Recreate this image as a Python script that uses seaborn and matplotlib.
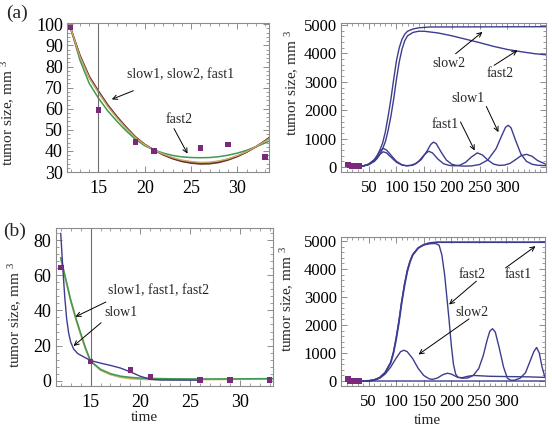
import numpy as np
import pandas as pd
import matplotlib
matplotlib.use("Agg")
import matplotlib.pyplot as plt
from matplotlib.ticker import MultipleLocator
import seaborn as sns

sns.set_theme(style="ticks")
plt.rcParams['font.family'] = ['Liberation Serif', 'DejaVu Serif']
plt.rcParams['mathtext.fontset'] = 'custom'
plt.rcParams['mathtext.rm'] = 'Liberation Serif'
plt.rcParams['mathtext.it'] = 'Liberation Serif:italic'
plt.rcParams['mathtext.default'] = 'regular'

# ---------------- data ----------------
obs_t = [12, 15, 19, 21, 26, 29, 33]
obs_a = [98.5, 59.5, 44.3, 40.1, 41.3, 43.1, 37.2]
obs_b = [64.5, 11.0, 6.0, 2.2, 0.3, 0.3, 0.3]

# (a) left: short-time fits
ta_fit = [12, 13, 14, 15, 16, 17, 18, 19, 20, 21, 22, 23, 24, 25, 26, 27, 28, 29, 30, 31, 32, 33, 33.5]
a_slow1 = [98, 85, 75, 68, 61.5, 56, 51, 46.5, 43, 40.5, 38.3, 36.6, 35.3, 34.6, 34.2, 34.3, 34.9, 36.0, 37.6, 39.6, 42.0, 44.8, 46.3]
a_slow2 = [98, 84.6, 74.6, 67.6, 61.1, 55.6, 50.7, 46.3, 42.9, 40.5, 38.5, 36.9, 35.7, 35.0, 34.6, 34.7, 35.3, 36.3, 37.8, 39.7, 42.0, 44.6, 46.0]
a_fast1 = [98, 85.3, 75.4, 68.4, 61.9, 56.3, 51.3, 46.7, 43.1, 40.5, 38.1, 36.3, 35.0, 34.2, 33.8, 33.9, 34.5, 35.7, 37.3, 39.4, 41.9, 44.9, 46.5]
a_fast2 = [98, 83, 72, 65, 59, 54, 49.5, 45.5, 42.5, 40.5, 39.0, 37.9, 37.2, 36.9, 36.8, 36.9, 37.3, 38.0, 39.0, 40.3, 42.0, 43.8, 44.8]

# (b) left: short-time fits
tb_blue = [12.0, 12.2, 12.4, 12.6, 12.8, 13.0, 13.3, 13.7, 14, 15, 16, 17, 18, 19, 20, 21, 22, 26]
b_slow1 = [84, 65, 48, 35, 27, 22, 18, 15.5, 14.5, 11.5, 10, 8.7, 7.2, 5.0, 2.5, 0.8, 0.4, 0.3]
tb_fit = [12, 12.5, 13, 13.5, 14, 14.5, 15, 16, 17, 18, 19, 20, 21, 23, 25, 27, 29, 31, 33.3]
b_fast1 = [70, 58, 46, 36, 27, 18.5, 11.2, 6.5, 4.0, 2.6, 1.9, 1.5, 1.3, 1.1, 1.0, 1.0, 1.0, 1.1, 1.2]
b_fast2 = [70, 57.5, 45.5, 35.5, 26.5, 18, 11.0, 6.0, 3.5, 2.0, 1.2, 0.9, 0.7, 0.6, 0.6, 0.7, 0.8, 0.9, 1.0]

# (a) right: long-time simulations
ra_t_slow2 = [12, 20, 30, 40, 50, 60, 65, 70, 75, 80, 85, 90, 95, 100, 105, 110, 115, 120, 130, 140, 160, 370]
ra_slow2 = [98, 45, 30, 45, 110, 260, 400, 600, 850, 1250, 1800, 2400, 3100, 3750, 4200, 4500, 4680, 4780, 4860, 4900, 4930, 4940]
ra_t_fast2 = [12, 20, 30, 40, 50, 60, 65, 70, 75, 80, 85, 90, 95, 100, 105, 110, 115, 120, 130, 140, 150, 175, 200, 225, 250, 275, 300, 325, 350, 370]
ra_fast2 = [98, 45, 30, 40, 90, 200, 300, 450, 650, 900, 1300, 1800, 2400, 3100, 3700, 4150, 4450, 4620, 4740, 4780, 4780, 4720, 4620, 4500, 4380, 4250, 4140, 4060, 3990, 3950]
ra_t_slow1 = [12, 20, 30, 40, 50, 60, 65, 70, 76, 82, 90, 100, 110, 117, 125, 135, 145, 155, 162, 167, 172, 180, 190, 200, 210, 220, 235, 250, 265, 280, 290, 297, 302, 307, 315, 325, 335, 345, 355, 370]
ra_slow1 = [98, 45, 30, 40, 100, 260, 400, 560, 660, 600, 420, 200, 80, 50, 60, 120, 270, 560, 800, 880, 820, 550, 250, 100, 50, 35, 40, 90, 250, 650, 1100, 1400, 1470, 1380, 950, 450, 200, 100, 65, 50]
ra_t_fast1 = [12, 20, 30, 40, 50, 60, 70, 76, 82, 90, 100, 110, 120, 130, 140, 150, 158, 165, 175, 185, 195, 205, 215, 225, 235, 246, 255, 265, 275, 285, 295, 305, 315, 325, 335, 345, 355, 370]
ra_fast1 = [98, 45, 30, 40, 90, 230, 450, 540, 500, 350, 170, 70, 45, 70, 200, 430, 560, 500, 280, 120, 60, 45, 70, 170, 350, 500, 430, 250, 110, 60, 70, 130, 260, 400, 450, 380, 230, 100]

# (b) right: long-time simulations
rb_t_slow1 = [12, 15, 20, 30, 370]
rb_slow1 = [64, 11, 2, 1, 1]
rb_t_fast1 = [12, 20, 30, 40, 50, 60, 70, 80, 90, 95, 100, 105, 110, 115, 120, 125, 130, 140, 150, 160, 175, 370]
rb_fast1 = [64, 2, 1, 3, 10, 40, 120, 300, 650, 1000, 1500, 2100, 2800, 3400, 3900, 4250, 4500, 4750, 4870, 4930, 4960, 4960]
rb_t_fast2 = [12, 20, 30, 40, 50, 60, 70, 80, 90, 95, 100, 105, 110, 115, 120, 125, 130, 140, 150, 160, 166, 172, 178, 183, 188, 192, 196, 200, 204, 208, 212, 220, 230, 240, 250, 270, 300, 340, 370]
rb_fast2 = [64, 2, 1, 3, 10, 40, 125, 310, 670, 1030, 1540, 2150, 2850, 3450, 3940, 4280, 4520, 4760, 4860, 4900, 4910, 4910, 4850, 4500, 3800, 3000, 2200, 1300, 600, 250, 130, 120, 170, 200, 190, 170, 160, 150, 130]
rb_t_slow2 = [12, 15, 20, 30, 40, 50, 60, 70, 80, 90, 100, 108, 114, 120, 130, 140, 150, 160, 166, 175, 185, 193, 200, 210, 220, 230, 240, 250, 258, 265, 270, 275, 280, 287, 295, 302, 308, 315, 325, 335, 343, 350, 355, 360, 365, 370]
rb_slow2 = [64, 11, 2, 1, 2, 8, 30, 100, 250, 500, 820, 1050, 1100, 1050, 800, 450, 200, 80, 60, 110, 230, 280, 250, 150, 100, 110, 200, 450, 900, 1450, 1780, 1870, 1750, 1200, 500, 100, 30, 30, 100, 300, 700, 1050, 1200, 1000, 500, 150]

# ---------------- styling ----------------
c_brown = "#8a4535"
c_olive = "#c4ae6a"
c_dark = "#6b3030"
c_green = "#3f9a52"
c_blue = "#3d3d8f"
c_pts = "#7a2a7a"
c_frame = "#8c8c8c"

fig = plt.figure(figsize=(5.52, 4.26), dpi=100)
ax1 = fig.add_axes([0.1214, 0.596, 0.3656, 0.350])
ax2 = fig.add_axes([0.618, 0.596, 0.371, 0.350])
ax3 = fig.add_axes([0.101, 0.094, 0.393, 0.371])
ax4 = fig.add_axes([0.618, 0.095, 0.369, 0.349])


def line(ax, t, v, color, lw=1.0):
    df = pd.DataFrame({"t": t, "v": v})
    sns.lineplot(data=df, x="t", y="v", ax=ax, color=color, lw=lw,
                 estimator=None, sort=False, legend=False)


def points(ax, t, v):
    df = pd.DataFrame({"t": t, "v": v})
    sns.scatterplot(data=df, x="t", y="v", ax=ax, marker="s", s=16,
                    color=c_pts, edgecolor="none", legend=False, zorder=5)


def style(ax, xmaj, xmin, ymaj, ymin, size=13):
    for sp in ax.spines.values():
        sp.set_visible(True)
        sp.set_color(c_frame)
        sp.set_linewidth(0.8)
    ax.xaxis.set_major_locator(MultipleLocator(xmaj))
    ax.xaxis.set_minor_locator(MultipleLocator(xmin))
    ax.yaxis.set_major_locator(MultipleLocator(ymaj))
    ax.yaxis.set_minor_locator(MultipleLocator(ymin))
    ax.tick_params(which="both", direction="in", top=True, right=True,
                   color=c_frame, labelcolor="black")
    ax.tick_params(axis="y", labelsize=size, pad=3)
    ax.tick_params(axis="x", labelsize=size, pad=6)
    ax.tick_params(which="major", length=4, width=0.7)
    ax.tick_params(which="minor", length=2, width=0.6)
    ax.set_xlabel("")
    ax.set_ylabel("")


# (a) left
line(ax1, ta_fit, a_fast2, c_green, 1.1)
line(ax1, ta_fit, a_slow1, c_brown, 1.3)
line(ax1, ta_fit, a_fast1, c_dark, 1.0)
line(ax1, ta_fit, a_slow2, c_olive, 1.0)
ax1.axvline(15, color="#6e6e6e", lw=0.8)
points(ax1, obs_t, obs_a)
ax1.set_xlim(11.6, 33.4)
ax1.set_ylim(30, 100.6)
style(ax1, 5, 1, 10, 2)
ax1.set_ylabel("tumor size, mm $^3$", fontsize=11)
ax1.yaxis.set_label_coords(-0.25, 0.40)
ax1.set_xticks([15, 20, 25, 30])

# (a) right
line(ax2, ra_t_slow2, ra_slow2, c_blue)
line(ax2, ra_t_fast2, ra_fast2, c_blue)
line(ax2, ra_t_slow1, ra_slow1, c_blue)
line(ax2, ra_t_fast1, ra_fast1, c_blue)
points(ax2, obs_t, obs_a)
ax2.set_xlim(0, 370)
ax2.set_ylim(-176, 5070)
style(ax2, 50, 10, 1000, 200, size=12)
ax2.set_xticks([50, 100, 150, 200, 250, 300])
ax2.set_ylabel("tumor size, mm $^3$", fontsize=11)
ax2.yaxis.set_label_coords(-0.195, 0.60)

# (b) left
line(ax3, tb_fit, b_fast2, c_olive, 1.3)
line(ax3, tb_fit, b_fast1, c_green, 1.1)
line(ax3, tb_blue, b_slow1, c_blue, 1.0)
ax3.axvline(15, color="#6e6e6e", lw=0.8)
points(ax3, obs_t, obs_b)
ax3.set_xlim(11.5, 33.3)
ax3.set_ylim(-3, 87)
style(ax3, 5, 1, 20, 4)
ax3.set_xticks([15, 20, 25, 30])
ax3.set_ylabel("tumor size, mm $^3$", fontsize=11)
ax3.yaxis.set_label_coords(-0.145, 0.45)
ax3.set_xlabel("time", fontsize=11)
ax3.xaxis.set_label_coords(0.41, -0.16)

# (b) right
line(ax4, rb_t_slow1, rb_slow1, c_blue)
line(ax4, rb_t_slow2, rb_slow2, c_blue)
line(ax4, rb_t_fast1, rb_fast1, c_blue, 1.3)
line(ax4, rb_t_fast2, rb_fast2, c_blue, 1.0)
points(ax4, obs_t, obs_b)
ax4.set_xlim(0, 370)
ax4.set_ylim(-160, 5150)
style(ax4, 50, 10, 1000, 200, size=12)
ax4.set_xticks([50, 100, 150, 200, 250, 300])
ax4.set_ylabel("tumor size, mm $^3$", fontsize=11)
ax4.yaxis.set_label_coords(-0.22, 0.58)
ax4.set_xlabel("time", fontsize=11)
ax4.xaxis.set_label_coords(0.425, -0.19)


def ann(ax, text, tpos, tail, head, fs=10):
    ax.text(tpos[0], tpos[1], text, transform=ax.transAxes, fontsize=fs,
            ha="center", va="center")
    ax.annotate("", xy=head, xytext=tail, xycoords="axes fraction",
                textcoords="axes fraction",
                arrowprops=dict(arrowstyle="->", lw=0.7, color="black",
                                shrinkA=0, shrinkB=0, mutation_scale=8))


ann(ax1, "slow1, slow2, fast1", (0.564, 0.652), (0.329, 0.546), (0.222, 0.488))
ann(ax1, "fast2", (0.554, 0.353), (0.53, 0.292), (0.597, 0.124))

ann(ax2, "slow2", (0.526, 0.727), (0.559, 0.794), (0.69, 0.94))
ann(ax2, "fast2", (0.775, 0.66), (0.747, 0.716), (0.861, 0.817))
ann(ax2, "slow1", (0.621, 0.492), (0.709, 0.44), (0.768, 0.268))
ann(ax2, "fast1", (0.51, 0.318), (0.583, 0.336), (0.652, 0.145))

ann(ax3, "slow1, fast1, fast2", (0.475, 0.60), (0.231, 0.531), (0.091, 0.438))
ann(ax3, "slow1", (0.30, 0.467), (0.209, 0.40), (0.082, 0.253))

ann(ax4, "fast2", (0.641, 0.747), (0.664, 0.702), (0.53, 0.545))
ann(ax4, "fast1", (0.87, 0.747), (0.807, 0.791), (0.954, 0.937))
ann(ax4, "slow2", (0.644, 0.489), (0.628, 0.448), (0.38, 0.209))

fig.text(17 / 552, 1 - 13 / 426, "(a)", fontsize=14, ha="center", va="center")
fig.text(15 / 552, 1 - 231 / 426, "(b)", fontsize=14, ha="center", va="center")

fig.savefig("out.png", dpi=100)
